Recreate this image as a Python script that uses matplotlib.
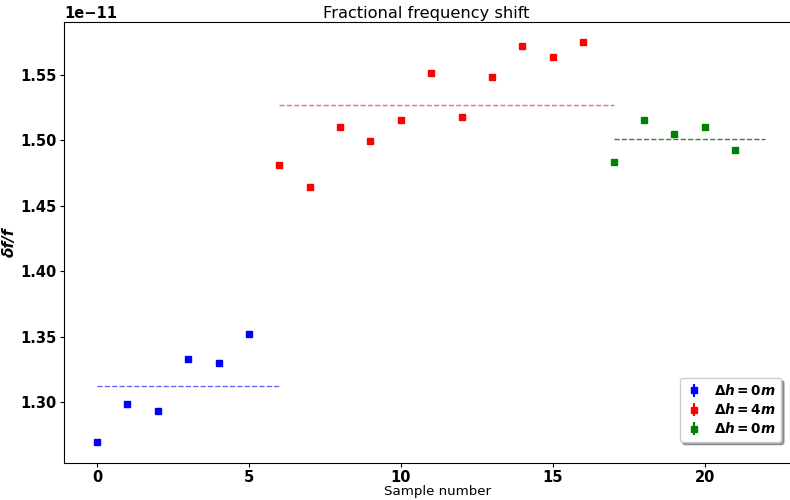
import numpy as np
import matplotlib
matplotlib.use('Agg')
import matplotlib.pyplot as plt

# sample values (x1e-11)
x1 = [0, 1, 2, 3, 4, 5]
y1 = [1.2694, 1.2985, 1.2931, 1.3329, 1.3298, 1.3520]
x2 = [6, 7, 8, 9, 10, 11, 12, 13, 14, 15, 16]
y2 = [1.4812, 1.4644, 1.5102, 1.4995, 1.5156, 1.5515, 1.5179, 1.5485, 1.5722, 1.5638, 1.5752]
x3 = [17, 18, 19, 20, 21]
y3 = [1.4835, 1.5156, 1.5049, 1.5102, 1.4927]
err = 0.0005
labels = [r'$\boldsymbol{\Delta h = 0m}$', r'$\boldsymbol{\Delta h = 4m}$', r'$\boldsymbol{\Delta h = 0m}$']

y1 = np.array(y1) * 1e-11
y2 = np.array(y2) * 1e-11
y3 = np.array(y3) * 1e-11

plt.rcParams['mathtext.fontset'] = 'dejavusans'
fig = plt.figure(figsize=(7.9, 5), dpi=100)
ax = fig.add_axes([0.081, 0.074, 0.9456, 0.882])

ax.errorbar(x1, y1, yerr=err * 1e-11, fmt='s', color='blue', ms=4.2, label=labels[0])
ax.errorbar(x2, y2, yerr=err * 1e-11, fmt='s', color='red', ms=4.2, label=labels[1])
ax.errorbar(x3, y3, yerr=err * 1e-11, fmt='s', color='green', ms=4.2, label=labels[2])

ax.hlines(np.mean(y1), 0, 6, colors='blue', linestyles='--', lw=1, alpha=0.6)
ax.hlines(np.mean(y2), 6, 17, colors='red', linestyles='--', lw=1, alpha=0.6)
ax.hlines(np.mean(y3), 17, 22, colors='darkgreen', linestyles='--', lw=1, alpha=0.8)

ax.set_xlim(-1.086, 23.5)
ax.set_ylim(1.2534e-11, 1.5905e-11)

ax.set_title('Fractional frequency shift', fontsize=11.7, pad=3, x=0.485)
ax.set_xlabel('Sample number', fontsize=9.6, labelpad=0)
ax.set_ylabel('δf/f', fontsize=11, fontweight='bold', style='italic', labelpad=3)
ax.tick_params(labelsize=10.5, length=3, pad=2)
for lab in ax.get_xticklabels() + ax.get_yticklabels():
    lab.set_fontweight('bold')
ax.yaxis.get_offset_text().set_fontweight('bold')
ax.yaxis.get_offset_text().set_fontsize(10.5)

leg = ax.legend(loc='lower right', shadow=True, fontsize=9.8, borderaxespad=0,
                labelspacing=0.3, handlelength=1.3, bbox_to_anchor=(0.96, 0.048))
fig.savefig('out.png')
